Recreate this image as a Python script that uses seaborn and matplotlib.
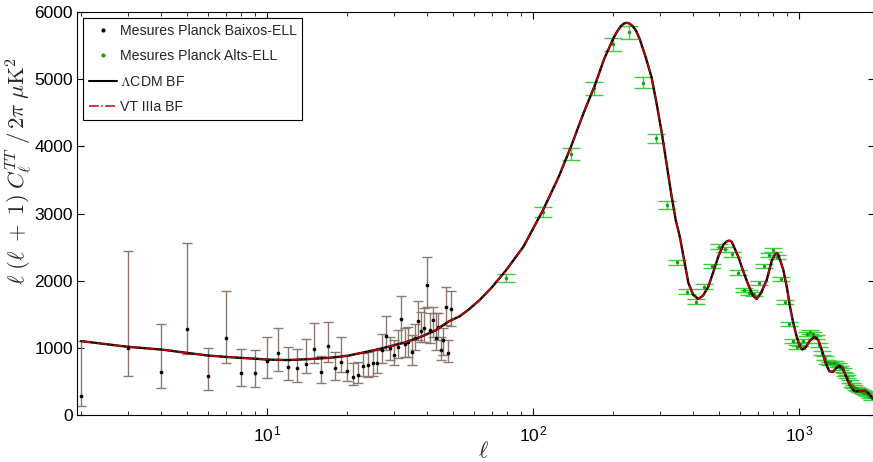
import numpy as np
import pandas as pd
import matplotlib
matplotlib.use("Agg")
import matplotlib.pyplot as plt
from matplotlib.lines import Line2D
import seaborn as sns

# ---------------- data ----------------
# low-ell Planck measurements (ell, value, lower end, upper end of bar)
ell_low = [2, 3, 4, 5, 6, 7, 8, 9, 10, 11, 12, 13, 14, 15, 16, 17, 18, 19, 20, 21, 22,
           23, 24, 25, 26, 27, 28, 29, 30, 31, 32, 33, 34, 35, 36, 37, 38, 39, 40,
           41, 42, 43, 44, 45, 46, 47, 48, 49]
d_low = [288, 1003, 636, 1276, 585, 1151, 630, 630, 809, 928, 719, 695, 759, 978, 636, 1027,
         695, 794, 655, 571, 596,
         730, 744, 779, 779, 968, 1181, 993, 893, 1017, 1425, 1052, 1092, 943, 1142, 1400,
         1251, 1290, 1936, 1266, 1415, 1151, 1305, 968, 1117, 1613, 918, 1578]
lo_low = [134, 581, 397, 904, 372, 779, 432, 422, 556, 655, 521, 496, 621, 770, 481, 794,
          521, 640, 506, 447, 472,
          581, 571, 581, 630, 769, 968, 819, 744, 844, 1067, 868, 868, 744, 968, 1117,
          1092, 1092, 1613, 1067, 1166, 968, 1117, 819, 893, 1340, 794, 1325]
hi_low = [1102, 2447, 1350, 2566, 1003, 1851, 978, 968, 1157, 1300, 1017, 978, 1136, 1365,
          878, 1389, 943, 1166, 893, 770, 794,
          928, 943, 968, 968, 1201, 1474, 1166, 1117, 1266, 1772, 1290, 1305, 1191, 1355,
          1697, 1538, 1588, 2348, 1523, 1613, 1523, 1514, 1166, 1290, 1911, 1117, 1851]

# high-ell binned Planck measurements
ell_high = [79, 109, 139, 169, 199, 229, 259, 289, 319, 349, 379, 409, 439, 469, 499, 529,
            559, 589, 619, 649, 679, 709, 739, 769, 799, 829, 859, 889, 919, 949, 979,
            1009, 1039, 1069, 1099, 1129, 1159, 1189, 1219, 1249, 1279, 1309, 1339, 1369,
            1399, 1429, 1459, 1489, 1519, 1549, 1579, 1609, 1639, 1669, 1699, 1729, 1759,
            1789, 1819, 1849, 1879]
d_high = [2040, 3018, 3886, 4864, 5519, 5697, 4948, 4120, 3127, 2273, 1836, 1687, 1911,
          2219, 2506, 2467, 2392, 2119, 1861, 1821, 1802, 1961, 2223, 2382, 2457, 2350,
          2020, 1678, 1350, 1107, 1017,
          1050, 1100, 1200, 1230, 1200, 1166, 1042, 920, 844, 794, 769, 780, 770,
          740, 700, 670, 600, 571, 500, 447, 420, 397, 380, 370, 348, 330,
          323, 300, 273, 250]
err_high = [65, 75, 90, 100, 100, 95, 80, 68, 62, 40, 38, 36, 35, 35, 35, 35,
            34, 34, 33, 33, 33, 32, 32, 32, 32, 32, 32, 32, 31, 31, 31,
            30, 30, 30, 29, 29, 29, 28, 28, 28, 28, 27, 27, 27,
            27, 26, 26, 26, 26, 25, 25, 25, 25, 25, 24, 24, 24,
            24, 24, 24, 24]

# best-fit model curves
ell_curve = [2, 3, 4, 5, 6, 7, 8, 9, 10, 12, 14, 17, 20, 22, 25, 28.6, 33, 38, 43, 48, 53,
             57, 63, 70, 79, 92, 109, 125, 139, 155, 171, 185, 200, 207, 214, 220, 225,
             231, 237, 244, 252, 265, 279, 292, 305, 318, 332, 344, 357, 370, 384, 400,
             418, 436, 456, 476, 497, 520, 535, 547, 558, 570, 591, 618, 645, 670, 693,
             720, 756, 790, 812, 824, 836, 850, 873, 900, 925, 950, 980, 1009, 1030, 1060,
             1100, 1140, 1180, 1220, 1260, 1300, 1340, 1380, 1420, 1460, 1500, 1550, 1600,
             1640, 1700, 1770, 1830, 1890]
lcdm_curve = [1100, 1015, 975, 925, 885, 865, 850, 838, 825, 818, 830, 850, 880, 915, 960,
              1017, 1080, 1166, 1260, 1389, 1470, 1563, 1712, 1900, 2150, 2506, 3050, 3550,
              4000, 4500, 4914, 5300, 5600, 5710, 5790, 5830, 5840, 5825, 5790, 5720, 5594,
              5330, 5028, 4620, 4194, 3730, 3250, 2900, 2640, 2300, 1961, 1790, 1727, 1780,
              1911, 2130, 2357, 2540, 2585, 2598, 2580, 2500, 2357, 2130, 1936, 1780, 1727,
              1820, 2010, 2300, 2390, 2410, 2385, 2300, 2159, 1900, 1612, 1380, 1166, 1017,
              975, 1010, 1110, 1163, 1120, 960, 770, 650, 640, 700, 730, 700, 580, 450,
              370, 350, 355, 365, 320, 250]
vt_curve = list(lcdm_curve)  # indistinguishable from LCDM in the figure

labels = ["Mesures Planck Baixos-ELL", "Mesures Planck Alts-ELL",
          r"$\Lambda$CDM BF", "VT IIIa BF"]

# ---------------- styling ----------------
sns.set_theme(style="ticks")
plt.rcParams["font.family"] = ["Liberation Sans", "DejaVu Sans"]
plt.rcParams["mathtext.fontset"] = "cm"
plt.rcParams["xtick.direction"] = "in"
plt.rcParams["ytick.direction"] = "in"

fig = plt.figure(figsize=(8.73, 4.62), dpi=100)
fig.patch.set_facecolor("white")
ax = fig.add_axes([77 / 873, 47 / 462, 798 / 873, 403 / 462])
ax.set_xscale("log")

low = pd.DataFrame({"ell": ell_low, "d": d_low, "lo": lo_low, "hi": hi_low})
high = pd.DataFrame({"ell": ell_high, "d": d_high, "err": err_high})
curves = pd.DataFrame({"ell": ell_curve, "lcdm": lcdm_curve, "vt": vt_curve})

bar_brown = "#8c7870"
green_bar = "#3fcc3f"
green_pt = "#1a9a1a"

ax.errorbar(low["ell"], low["d"], yerr=[low["d"] - low["lo"], low["hi"] - low["d"]],
            fmt="none", ecolor=bar_brown, elinewidth=1.0, capsize=3.5, capthick=1.0,
            zorder=2)
sns.scatterplot(data=low, x="ell", y="d", color="black", s=7, linewidth=0, ax=ax,
                zorder=3, legend=False)

ax.errorbar(high["ell"], high["d"], yerr=high["err"], fmt="none", ecolor=green_bar,
            elinewidth=1.0, capsize=6.5, capthick=1.0, zorder=2)
sns.scatterplot(data=high, x="ell", y="d", color=green_pt, s=6, linewidth=0, ax=ax,
                zorder=3, legend=False)

sns.lineplot(data=curves, x="ell", y="lcdm", color="black", linewidth=1.7, ax=ax,
             sort=False, estimator=None, zorder=4)
ax.plot(curves["ell"], curves["vt"], color="#d00000", linewidth=1.1, linestyle="-.",
        zorder=5)

ax.set_xlim(1.93, 1930)
ax.set_ylim(0, 6000)
ax.set_yticks([0, 1000, 2000, 3000, 4000, 5000, 6000])
ax.set_xticks([10, 100, 1000])
ax.set_xticklabels([r"10$^{\mathregular{1}}$", r"10$^{\mathregular{2}}$",
                    r"10$^{\mathregular{3}}$"])

ax.tick_params(axis="both", which="major", direction="in", length=5, width=0.8,
               colors="black", labelsize=12.5, top=True, right=True, pad=3)
ax.tick_params(axis="x", which="major", pad=7)
ax.tick_params(axis="x", which="minor", direction="in", length=3, width=0.7,
               top=True, bottom=True)
for s in ax.spines.values():
    s.set_color("black")
    s.set_linewidth(0.8)

ax.set_xlabel(r"$\ell$", fontsize=16)
ax.xaxis.set_label_coords((483 - 77) / 798, -0.065)
ax.set_ylabel(r"$\ell\;(\ell\;+\;1)\;C_\ell^{TT}\;/\,2\pi\;\mu\mathrm{K}^2$", fontsize=16.5)
ax.yaxis.set_label_coords(-0.0535, 0.605)

handles = [
    Line2D([], [], linestyle="none", marker=".", color="black", markersize=4),
    Line2D([], [], linestyle="none", marker=".", color=green_pt, markersize=4),
    Line2D([], [], color="black", linewidth=1.5),
    Line2D([], [], color="#d00000", linewidth=1.1, linestyle="-."),
]
leg = ax.legend(handles, labels, loc="upper left", fontsize=10.2, frameon=True,
                fancybox=False, edgecolor="black", framealpha=1, handlelength=2.0,
                handletextpad=0.15, labelspacing=0.8, borderaxespad=0.45,
                borderpad=0.4)
leg.get_frame().set_linewidth(0.8)

fig.savefig("out.png", dpi=100, facecolor="white")
